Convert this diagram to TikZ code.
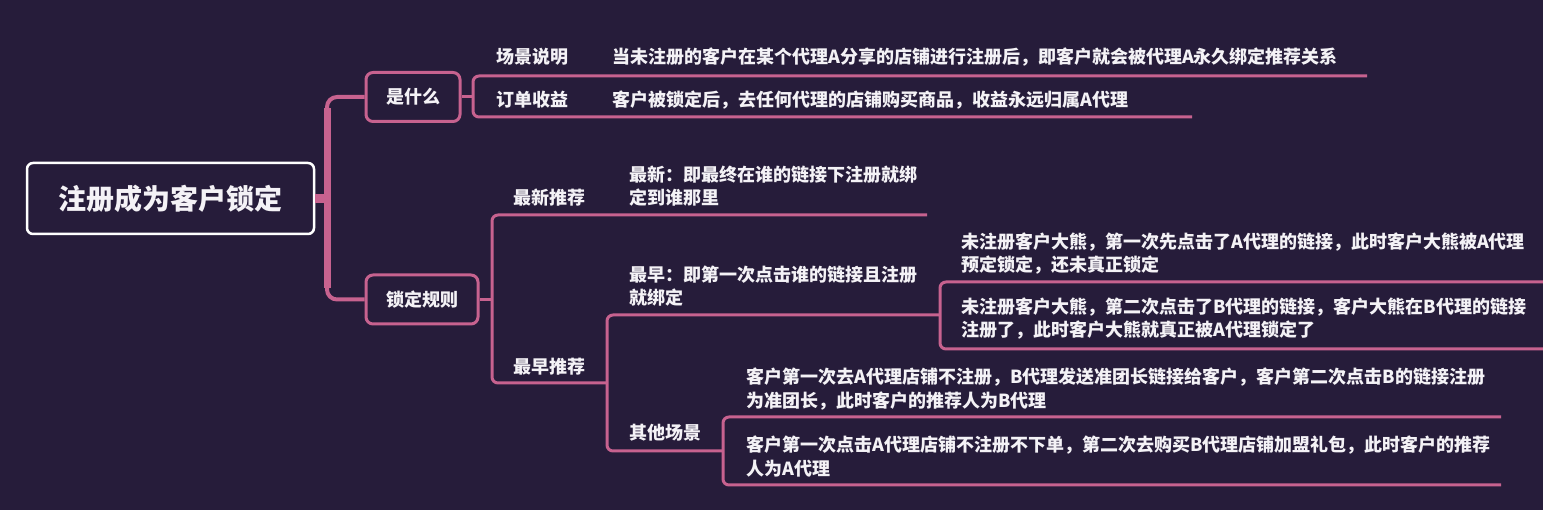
\documentclass[tikz,border=0pt]{standalone}
\usepackage{fontspec}
\setmainfont{Noto Sans CJK SC}
\definecolor{bg}{HTML}{261C3A}
\definecolor{pk}{HTML}{C7628F}
\definecolor{tx}{HTML}{F4F2F6}
\begin{document}
\begin{tikzpicture}[x=1pt,y=-1pt,
  every node/.style={inner sep=0pt, text=tx, font=\bfseries\fontsize{18}{23.5}\selectfont},
  lbl/.style={anchor=west, align=left},
  topicbox/.style={draw=pk, line width=3pt, rounded corners=7pt, fill=bg, minimum height=49pt},
  ln/.style={draw=pk, line width=3pt, rounded corners=6pt},
]
\fill[bg] (0,0) rectangle (1543,510);
\useasboundingbox (0,0) rectangle (1543,510);

% root
\node[draw=white, line width=2.5pt, rounded corners=6pt, minimum width=287pt, minimum height=71pt,
      font=\bfseries\fontsize{28}{30}\selectfont] (root) at (170.5,198.5) {注册成为客户锁定};

% level 1
\node[topicbox, minimum width=94pt] (wh) at (413,97) {是什么};
\node[topicbox, minimum width=112pt] (rule) at (422,299.5) {锁定规则};

\coordinate (trunk) at (327,198.5);
\draw[pk, line width=9pt] (root.east) -- (trunk);
\draw[pk, line width=4pt, rounded corners=10pt] (wh.west) -| (trunk) |- (rule.west);
\draw[pk, line width=7pt] (trunk |- 0,108) -- (trunk |- 0,288);

% --- 是什么 subtree
\coordinate (b1) at (473,97);
\draw[ln] (wh.east) -- (b1);
\draw[ln] (1367,76) -- (b1 |- 0,76) -- (b1 |- 0,117) -- (1192,117);
\node[lbl] (scene) at (496,57) {场景说明};
\node[lbl] (order) at (496,100) {订单收益};
\node[lbl] (sceneD) at (612,57) {当未注册的客户在某个代理A分享的店铺进行注册后，即客户就会被代理A永久绑定推荐关系};
\node[lbl] (orderD) at (612,100) {客户被锁定后，去任何代理的店铺购买商品，收益永远归属A代理};

% --- 锁定规则 subtree
\coordinate (b2) at (492,299.5);
\draw[ln] (rule.east) -- (b2);
\draw[ln] (927,215) -- (b2 |- 0,215) -- (b2 |- 0,383) -- (607,383);
\node[lbl] (newest) at (513,198) {最新推荐};
\node[lbl] (newestD) at (629,186) {最新：即最终在谁的链接下注册就绑\\定到谁那里};
\node[lbl] (earliest) at (513,367) {最早推荐};

% 最早推荐 children
\coordinate (b3) at (607,383);
\draw[ln] (940,315) -- (b3 |- 0,315) -- (b3 |- 0,451) -- (723,451);
\node[lbl] (earlyD) at (629,286) {最早：即第一次点击谁的链接且注册\\就绑定};
\node[lbl] (other) at (629,433) {其他场景};

% 最早 detail children
\coordinate (b4) at (940,315);
\draw[ln] (1550,282) -- (b4 |- 0,282) -- (b4 |- 0,349) -- (1550,349);
\node[lbl] (bear1) at (961,253.5) {未注册客户大熊，第一次先点击了A代理的链接，此时客户大熊被A代理\\预定锁定，还未真正锁定};
\node[lbl] (bear2) at (961,318.5) {未注册客户大熊，第二次点击了B代理的链接，客户大熊在B代理的链接\\注册了，此时客户大熊就真正被A代理锁定了};

% 其他场景 children
\coordinate (b5) at (723,451);
\draw[ln] (1501,417) -- (b5 |- 0,417) -- (b5 |- 0,485) -- (1501,485);
\node[lbl] (case1) at (746,389) {客户第一次去A代理店铺不注册，B代理发送准团长链接给客户，客户第二次点击B的链接注册\\为准团长，此时客户的推荐人为B代理};
\node[lbl] (case2) at (746,456.5) {客户第一次点击A代理店铺不注册不下单，第二次去购买B代理店铺加盟礼包，此时客户的推荐\\人为A代理};
\end{tikzpicture}
\end{document}
